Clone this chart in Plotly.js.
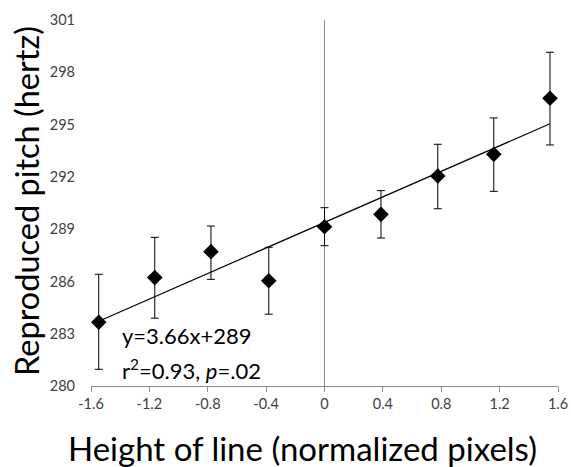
<!DOCTYPE html>
<html>
<head>
<meta charset="utf-8">
<script src="https://cdn.plot.ly/plotly-3.0.1.min.js"></script>
<style>html,body{margin:0;padding:0;background:#fff;}#chart{width:571px;height:467px;}</style>
</head>
<body>
<div id="chart"></div>
<script>
// Data
const heightOfLine = [-1.547, -1.163, -0.778, -0.382, 0.0, 0.387, 0.776, 1.16, 1.545];
const pitchMean   = [283.66, 286.22, 287.71, 286.04, 289.14, 289.85, 292.05, 293.29, 296.51];
const errorUp     = [2.75, 2.31, 1.47, 1.92, 1.09, 1.36, 1.82, 2.09, 2.64];
const errorDown   = [2.70, 2.33, 1.59, 1.92, 1.09, 1.36, 1.88, 2.12, 2.68];
const xTickVals   = [-1.6, -1.2, -0.8, -0.4, 0, 0.4, 0.8, 1.2, 1.6];
const xTickText   = ["-1.6", "-1.2", "-0.8", "-0.4", "0", "0.4", "0.8", "1.2", "1.6"];
const yTickVals   = [280, 283, 286, 289, 292, 295, 298, 301];
const xTitle = "Height of line (normalized pixels)";
const yTitle = "Reproduced pitch (hertz)";
const equationLines = ["y=3.66x+289", "r<sup>2</sup>=0.93, <i>p</i>=.02"];

// Least-squares trend line derived from the data
const n = heightOfLine.length;
const mx = heightOfLine.reduce((a, b) => a + b, 0) / n;
const my = pitchMean.reduce((a, b) => a + b, 0) / n;
let sxy = 0, sxx = 0;
for (let i = 0; i < n; i++) {
  sxy += (heightOfLine[i] - mx) * (pitchMean[i] - my);
  sxx += (heightOfLine[i] - mx) * (heightOfLine[i] - mx);
}
const slope = sxy / sxx;
const intercept = my - slope * mx;
const trendX = [Math.min(...heightOfLine), Math.max(...heightOfLine)];
const trendY = trendX.map(x => intercept + slope * x);

const FONT = "Lato, 'Open Sans', sans-serif";

const traces = [
  {
    x: trendX, y: trendY, type: 'scatter', mode: 'lines',
    line: {color: '#000', width: 1.2}, hoverinfo: 'skip', showlegend: false
  },
  {
    x: heightOfLine, y: pitchMean, type: 'scatter', mode: 'markers',
    marker: {symbol: 'diamond', size: 12, color: '#000'},
    error_y: {type: 'data', symmetric: false, array: errorUp, arrayminus: errorDown,
              color: '#000', thickness: 1, width: 4},
    showlegend: false
  }
];

const layout = {
  width: 571, height: 467,
  margin: {l: 91, r: 13, t: 20, b: 81, pad: 0},
  paper_bgcolor: '#fff', plot_bgcolor: '#fff',
  font: {family: FONT, color: '#404040'},
  showlegend: false,
  xaxis: {
    range: [-1.6, 1.6], tickvals: xTickVals, ticktext: xTickText,
    showgrid: false, zeroline: true, zerolinecolor: '#8c8c8c', zerolinewidth: 1,
    showline: true, linecolor: '#8c8c8c', linewidth: 1,
    ticks: 'outside', ticklen: 5, tickcolor: '#8c8c8c', tickwidth: 1,
    tickfont: {family: FONT, size: 14.5, color: '#404040'}
  },
  yaxis: {
    range: [280, 301], tickvals: yTickVals,
    showgrid: false, zeroline: false, showline: false,
    ticks: '', ticklabelstandoff: 15,
    tickfont: {family: FONT, size: 14.5, color: '#404040'}
  },
  annotations: [
    {xref: 'paper', yref: 'paper', x: 0.452, y: -0.170, xanchor: 'center', yanchor: 'middle',
     text: xTitle, showarrow: false, font: {family: FONT, size: 33, color: '#000'}},
    {xref: 'paper', yref: 'paper', x: -0.137, y: 0.5055, xanchor: 'center', yanchor: 'middle',
     textangle: -90, text: yTitle, showarrow: false, font: {family: FONT, size: 32.5, color: '#000'}},
    {xref: 'paper', yref: 'paper', x: 0.063, y: 0.137, xanchor: 'left', yanchor: 'middle',
     text: equationLines[0], showarrow: false, font: {family: FONT, size: 22, color: '#000'}},
    {xref: 'paper', yref: 'paper', x: 0.063, y: 0.046, xanchor: 'left', yanchor: 'middle',
     text: equationLines[1], showarrow: false, font: {family: FONT, size: 22, color: '#000'}}
  ]
};

Plotly.newPlot('chart', traces, layout, {displayModeBar: false, staticPlot: true});
</script>
</body>
</html>
